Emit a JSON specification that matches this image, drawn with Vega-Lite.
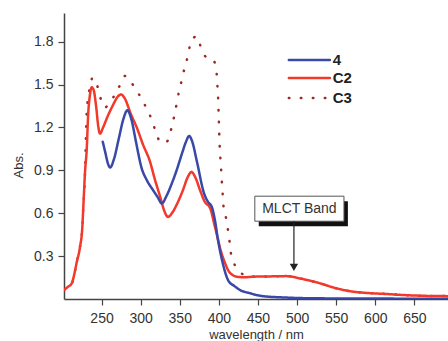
{
  "$schema": "https://vega.github.io/schema/vega-lite/v6.json",
  "width": 384,
  "height": 286,
  "autosize": {"type": "none"},
  "padding": {"left": 64, "top": 13, "right": 0, "bottom": 42},
  "background": "white",
  "config": {
    "view": {"stroke": null},
    "axis": {
      "domainColor": "#444", "domainWidth": 1.5, "tickColor": "#444", "tickSize": 6, "tickWidth": 1.2,
      "labelFont": "Liberation Sans", "labelFontSize": 14, "labelColor": "#333", "grid": false,
      "titleFont": "Liberation Sans", "titleFontSize": 13, "titleFontWeight": "normal", "titleColor": "#333"
    }
  },
  "datasets": {
    "spectra": [
      {"s":"C3","w":202,"a":0.063},{"s":"C3","w":207,"a":0.085},{"s":"C3","w":212,"a":0.11},{"s":"C3","w":215,"a":0.17},{"s":"C3","w":218,"a":0.25},{"s":"C3","w":222.5,"a":0.365},{"s":"C3","w":225.4,"a":0.5},{"s":"C3","w":226.7,"a":0.644},{"s":"C3","w":229,"a":0.9},{"s":"C3","w":230,"a":1.12},{"s":"C3","w":231,"a":1.3},{"s":"C3","w":235,"a":1.48},{"s":"C3","w":238.7,"a":1.547},{"s":"C3","w":243.8,"a":1.505},{"s":"C3","w":248,"a":1.417},{"s":"C3","w":254.5,"a":1.34},{"s":"C3","w":260,"a":1.37},{"s":"C3","w":265,"a":1.41},{"s":"C3","w":272.7,"a":1.486},{"s":"C3","w":280,"a":1.56},{"s":"C3","w":288.5,"a":1.51},{"s":"C3","w":298,"a":1.43},{"s":"C3","w":306,"a":1.35},{"s":"C3","w":313,"a":1.27},{"s":"C3","w":320,"a":1.16},{"s":"C3","w":324.7,"a":1.1},{"s":"C3","w":330,"a":1.09},{"s":"C3","w":335,"a":1.11},{"s":"C3","w":339.6,"a":1.2},{"s":"C3","w":343,"a":1.28},{"s":"C3","w":349,"a":1.45},{"s":"C3","w":353,"a":1.54},{"s":"C3","w":356.6,"a":1.626},{"s":"C3","w":360.9,"a":1.71},{"s":"C3","w":364,"a":1.8},{"s":"C3","w":368.5,"a":1.83},{"s":"C3","w":371.6,"a":1.837},{"s":"C3","w":375.8,"a":1.78},{"s":"C3","w":381,"a":1.71},{"s":"C3","w":387,"a":1.68},{"s":"C3","w":393,"a":1.67},{"s":"C3","w":397,"a":1.59},{"s":"C3","w":398,"a":1.505},{"s":"C3","w":399,"a":1.417},{"s":"C3","w":399.5,"a":1.33},{"s":"C3","w":400,"a":1.25},{"s":"C3","w":400.5,"a":1.156},{"s":"C3","w":401,"a":1.075},{"s":"C3","w":402,"a":0.98},{"s":"C3","w":403,"a":0.9},{"s":"C3","w":404,"a":0.807},{"s":"C3","w":405,"a":0.726},{"s":"C3","w":406,"a":0.644},{"s":"C3","w":409.6,"a":0.556},{"s":"C3","w":412,"a":0.47},{"s":"C3","w":414,"a":0.389},{"s":"C3","w":416,"a":0.3},{"s":"C3","w":423,"a":0.218},{"s":"C3","w":430,"a":0.175},{"s":"C3","w":440,"a":0.158},{"s":"C3","w":465,"a":0.158},{"s":"C3","w":486.6,"a":0.16},{"s":"C3","w":503.6,"a":0.144},{"s":"C3","w":515,"a":0.13},{"s":"C3","w":529,"a":0.11},{"s":"C3","w":550,"a":0.075},{"s":"C3","w":572,"a":0.051},{"s":"C3","w":590,"a":0.042},{"s":"C3","w":614,"a":0.035},{"s":"C3","w":635,"a":0.028},{"s":"C3","w":657,"a":0.023},{"s":"C3","w":675,"a":0.021},{"s":"C3","w":693,"a":0.02},
      {"s":"C2","w":202,"a":0.063},{"s":"C2","w":207,"a":0.085},{"s":"C2","w":212,"a":0.11},{"s":"C2","w":215,"a":0.17},{"s":"C2","w":218,"a":0.25},{"s":"C2","w":222.5,"a":0.365},{"s":"C2","w":225.4,"a":0.5},{"s":"C2","w":226.7,"a":0.644},{"s":"C2","w":229,"a":0.9},{"s":"C2","w":231,"a":1.04},{"s":"C2","w":233,"a":1.3},{"s":"C2","w":235,"a":1.42},{"s":"C2","w":237.4,"a":1.48},{"s":"C2","w":240,"a":1.46},{"s":"C2","w":243,"a":1.35},{"s":"C2","w":246,"a":1.2},{"s":"C2","w":248,"a":1.156},{"s":"C2","w":252,"a":1.2},{"s":"C2","w":258,"a":1.28},{"s":"C2","w":265,"a":1.36},{"s":"C2","w":270,"a":1.41},{"s":"C2","w":275,"a":1.43},{"s":"C2","w":280,"a":1.4},{"s":"C2","w":287,"a":1.3},{"s":"C2","w":295,"a":1.2},{"s":"C2","w":303,"a":1.08},{"s":"C2","w":312,"a":0.96},{"s":"C2","w":318,"a":0.84},{"s":"C2","w":325,"a":0.714},{"s":"C2","w":330,"a":0.62},{"s":"C2","w":335,"a":0.574},{"s":"C2","w":340,"a":0.6},{"s":"C2","w":347,"a":0.67},{"s":"C2","w":354,"a":0.76},{"s":"C2","w":360,"a":0.85},{"s":"C2","w":365,"a":0.888},{"s":"C2","w":370,"a":0.85},{"s":"C2","w":376,"a":0.76},{"s":"C2","w":382,"a":0.68},{"s":"C2","w":389,"a":0.633},{"s":"C2","w":395,"a":0.505},{"s":"C2","w":403.5,"a":0.319},{"s":"C2","w":408,"a":0.25},{"s":"C2","w":412,"a":0.2},{"s":"C2","w":417,"a":0.17},{"s":"C2","w":422.7,"a":0.156},{"s":"C2","w":432,"a":0.152},{"s":"C2","w":444,"a":0.156},{"s":"C2","w":465,"a":0.158},{"s":"C2","w":486.6,"a":0.16},{"s":"C2","w":503.6,"a":0.144},{"s":"C2","w":515,"a":0.13},{"s":"C2","w":529,"a":0.11},{"s":"C2","w":550,"a":0.075},{"s":"C2","w":572,"a":0.051},{"s":"C2","w":590,"a":0.042},{"s":"C2","w":614,"a":0.035},{"s":"C2","w":635,"a":0.028},{"s":"C2","w":657,"a":0.023},{"s":"C2","w":675,"a":0.021},{"s":"C2","w":693,"a":0.02},
      {"s":"4","w":251.5,"a":1.1},{"s":"4","w":255,"a":1.02},{"s":"4","w":258,"a":0.95},{"s":"4","w":261,"a":0.92},{"s":"4","w":266,"a":0.98},{"s":"4","w":272,"a":1.12},{"s":"4","w":278,"a":1.26},{"s":"4","w":283,"a":1.32},{"s":"4","w":288,"a":1.26},{"s":"4","w":294,"a":1.1},{"s":"4","w":301,"a":0.92},{"s":"4","w":308,"a":0.83},{"s":"4","w":316,"a":0.76},{"s":"4","w":322,"a":0.71},{"s":"4","w":327,"a":0.668},{"s":"4","w":333,"a":0.72},{"s":"4","w":340,"a":0.81},{"s":"4","w":346,"a":0.9},{"s":"4","w":353,"a":1.02},{"s":"4","w":358,"a":1.1},{"s":"4","w":362,"a":1.14},{"s":"4","w":366,"a":1.1},{"s":"4","w":372,"a":0.96},{"s":"4","w":381,"a":0.74},{"s":"4","w":386,"a":0.68},{"s":"4","w":391,"a":0.644},{"s":"4","w":395,"a":0.55},{"s":"4","w":399,"a":0.41},{"s":"4","w":405,"a":0.25},{"s":"4","w":412,"a":0.13},{"s":"4","w":420,"a":0.09},{"s":"4","w":427,"a":0.063},{"s":"4","w":440,"a":0.04},{"s":"4","w":456,"a":0.02},{"s":"4","w":486,"a":0.01},{"s":"4","w":520,"a":0.005},{"s":"4","w":600,"a":0.003},{"s":"4","w":693,"a":0.002}
    ],
    "legendrows": [
      {"s":"4","x":489.5,"x2":542,"y":1.671,"lx":545.5},
      {"s":"C2","x":489.5,"x2":542,"y":1.545,"lx":545.5},
      {"s":"C3","x":489.5,"x2":542,"y":1.406,"lx":545.5}
    ],
    "shadow": [{"x":451,"x2":565,"y":0.509,"y2":0.684}],
    "box": [{"x":446,"x2":560,"y":0.544,"y2":0.719,"t":"MLCT Band","tx":503,"ty":0.632}],
    "arrow": [{"x":496,"y":0.544,"y2":0.225,"hy":0.222}]
  },
  "layer": [
    {
      "data": {"name": "spectra"},
      "mark": {"type": "line", "interpolate": "monotone", "strokeWidth": 2.5, "strokeCap": "round", "clip": true},
      "encoding": {
        "x": {"field": "w", "type": "quantitative", "title": "wavelength / nm", "scale": {"domain": [202, 693], "nice": false, "zero": false},
              "axis": {"values": [250,300,350,400,450,500,550,600,650], "labelPadding": 6, "titlePadding": 3}},
        "y": {"field": "a", "type": "quantitative", "title": "Abs.", "scale": {"domain": [0, 2.0], "nice": false, "zero": false},
              "axis": {"values": [0.3,0.6,0.9,1.2,1.5,1.8], "format": ".1f", "labelPadding": 5, "titlePadding": 8, "titleY": 152}},
        "color": {"field": "s", "type": "nominal", "scale": {"domain": ["4","C2","C3"], "range": ["#3a48a8","#f2392b","#9b2a20"]}, "legend": null},
        "strokeDash": {"field": "s", "type": "nominal", "scale": {"domain": ["4","C2","C3"], "range": [[1,0],[1,0],[0.5,11.5]]}, "legend": null}
      }
    },
    {
      "data": {"name": "legendrows"},
      "mark": {"type": "rule", "strokeWidth": 2.5, "strokeCap": "round"},
      "encoding": {
        "x": {"field": "x", "type": "quantitative", "title": "wavelength / nm"},
        "x2": {"field": "x2"},
        "y": {"field": "y", "type": "quantitative", "title": "Abs."},
        "color": {"field": "s", "type": "nominal", "legend": null},
        "strokeDash": {"field": "s", "type": "nominal", "legend": null}
      }
    },
    {
      "data": {"name": "legendrows"},
      "mark": {"type": "text", "align": "left", "baseline": "middle", "font": "Liberation Sans", "fontSize": 15, "fontWeight": "bold", "color": "#222"},
      "encoding": {
        "x": {"field": "lx", "type": "quantitative", "title": "wavelength / nm"},
        "y": {"field": "y", "type": "quantitative", "title": "Abs."},
        "text": {"field": "s"}
      }
    },
    {
      "data": {"name": "shadow"},
      "mark": {"type": "rect", "color": "#111"},
      "encoding": {
        "x": {"field": "x", "type": "quantitative", "title": "wavelength / nm"},
        "x2": {"field": "x2"},
        "y": {"field": "y", "type": "quantitative", "title": "Abs."},
        "y2": {"field": "y2"}
      }
    },
    {
      "data": {"name": "box"},
      "mark": {"type": "rect", "fill": "white", "stroke": "#555", "strokeWidth": 1},
      "encoding": {
        "x": {"field": "x", "type": "quantitative", "title": "wavelength / nm"},
        "x2": {"field": "x2"},
        "y": {"field": "y", "type": "quantitative", "title": "Abs."},
        "y2": {"field": "y2"}
      }
    },
    {
      "data": {"name": "box"},
      "mark": {"type": "text", "font": "Liberation Sans", "fontSize": 14, "color": "#333"},
      "encoding": {
        "x": {"field": "tx", "type": "quantitative", "title": "wavelength / nm"},
        "y": {"field": "ty", "type": "quantitative", "title": "Abs."},
        "text": {"field": "t"}
      }
    },
    {
      "data": {"name": "arrow"},
      "mark": {"type": "rule", "color": "#222", "strokeWidth": 1.2},
      "encoding": {
        "x": {"field": "x", "type": "quantitative", "title": "wavelength / nm"},
        "y": {"field": "y", "type": "quantitative", "title": "Abs."},
        "y2": {"field": "y2"}
      }
    },
    {
      "data": {"name": "arrow"},
      "mark": {"type": "point", "shape": "triangle-down", "filled": true, "color": "#222", "size": 70, "opacity": 1},
      "encoding": {
        "x": {"field": "x", "type": "quantitative", "title": "wavelength / nm"},
        "y": {"field": "hy", "type": "quantitative", "title": "Abs."}
      }
    }
  ]
}
